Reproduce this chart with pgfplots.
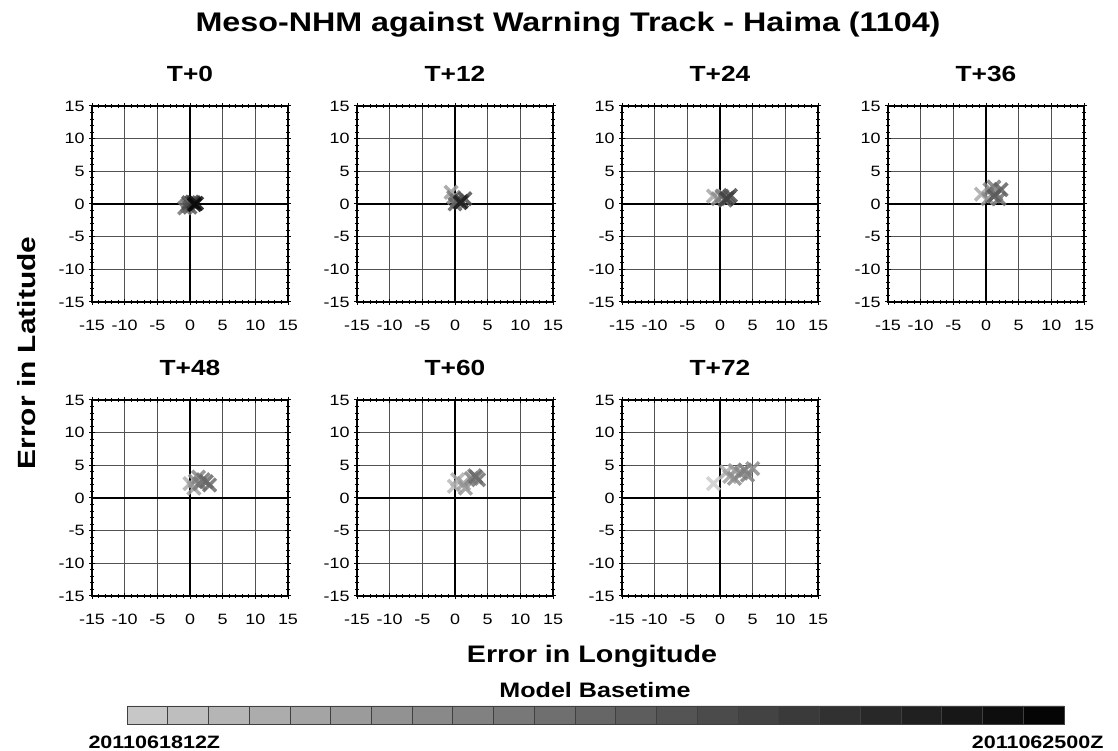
\documentclass[border=0pt]{standalone}
\usepackage{fontspec}
\setmainfont{Liberation Sans}[FakeStretch=1.2]
\usepackage{pgfplots}
\pgfplotsset{compat=1.18}
\pgfplotsset{
  panel/.style={
    scale only axis, width=196bp, height=196bp, anchor=north west,
    xmin=-15,xmax=15,ymin=-15,ymax=15,
    xtick={-15,-10,-5,0,5,10,15}, ytick={-15,-10,-5,0,5,10,15},
    minor tick num=4,
    grid=major, major grid style={draw=black!68, line width=1.1pt},
    axis line style={line width=1.2pt},
    every tick/.style={black, line width=1pt},
    major tick length=6bp, minor tick length=4bp,
    tick align=center,
    /pgf/number format/assume math mode=true,
    ticklabel style={font=\fontsize{15}{15}\selectfont},
    xticklabel style={yshift=-12bp},
    yticklabel style={xshift=-1bp},
    title style={font=\bfseries\fontsize{22}{22}\selectfont, at={(0.5,1)}, anchor=base, yshift=19bp},
    colormap={grays}{gray(0cm)=(0); gray(1cm)=(1)},
    point meta min=0, point meta max=1,
  },
  xs/.style={scatter, only marks, mark=x, mark size=9bp, scatter src=explicit,
    scatter/use mapped color={draw=mapped color, fill=mapped color},
    mark options={line width=3.5pt, opacity=0.85}},
  zl/.style={black, line width=2.4pt, no marks, forget plot},
}
\newcommand{\zerolines}{%
  \addplot[zl] coordinates {(0,-15) (0,15)};
  \addplot[zl] coordinates {(-15,0) (15,0)};
}
\begin{document}
\begin{tikzpicture}
\path[use as bounding box] (0,0) rectangle (1118bp,751bp);

\node[font=\bfseries\fontsize{27}{27}\selectfont] at (568bp,726bp) {Meso-NHM against Warning Track - Haima (1104)};

% T+0
\begin{axis}[panel, at={(92bp,645bp)}, title={T+0}]
\zerolines
\addplot[xs] table[row sep=\\, meta=g] {x y g\\
-0.8 -0.6 0.45\\ -0.4 -0.2 0.40\\ 0.0 -0.5 0.35\\ -0.2 0.2 0.30\\ 0.3 0.3 0.28\\ 0.6 0.2 0.18\\ 1.0 0.1 0.08\\ 0.7 -0.1 0.03\\};
\end{axis}
% T+12
\begin{axis}[panel, at={(357bp,645bp)}, title={T+12}]
\zerolines
\addplot[xs] table[row sep=\\, meta=g] {x y g\\
-0.6 1.8 0.62\\ -0.2 1.0 0.50\\ 0.3 0.5 0.42\\ 0.0 0.0 0.38\\ 1.5 0.8 0.30\\ 1.0 0.4 0.22\\ 0.8 0.2 0.12\\};
\end{axis}
% T+24
\begin{axis}[panel, at={(622bp,645bp)}, title={T+24}]
\zerolines
\addplot[xs] table[row sep=\\, meta=g] {x y g\\
-1.0 1.2 0.65\\ -0.3 0.8 0.55\\ 0.3 1.2 0.48\\ 0.8 0.6 0.40\\ 1.3 1.0 0.33\\ 1.6 1.3 0.30\\ 1.0 0.8 0.25\\};
\end{axis}
% T+36
\begin{axis}[panel, at={(888bp,645bp)}, title={T+36}]
\zerolines
\addplot[xs] table[row sep=\\, meta=g] {x y g\\
-0.7 1.5 0.66\\ 0.3 0.8 0.58\\ 0.6 2.2 0.52\\ 1.2 2.6 0.48\\ 1.5 1.5 0.42\\ 2.0 0.8 0.45\\ 2.3 2.2 0.38\\ 1.2 1.2 0.35\\};
\end{axis}
% T+48
\begin{axis}[panel, at={(92bp,351bp)}, title={T+48}]
\zerolines
\addplot[xs] table[row sep=\\, meta=g] {x y g\\
0.0 2.2 0.68\\ 0.6 1.5 0.62\\ 0.8 2.6 0.58\\ 1.3 3.2 0.52\\ 1.5 2.2 0.48\\ 2.0 2.8 0.45\\ 3.0 2.0 0.42\\ 2.5 2.5 0.40\\};
\end{axis}
% T+60
\begin{axis}[panel, at={(357bp,351bp)}, title={T+60}]
\zerolines
\addplot[xs] table[row sep=\\, meta=g] {x y g\\
-0.1 1.8 0.72\\ 0.4 2.8 0.68\\ 1.3 2.2 0.62\\ 1.6 1.5 0.58\\ 2.5 3.0 0.52\\ 3.0 3.4 0.48\\ 3.6 2.8 0.45\\ 3.2 3.2 0.42\\};
\end{axis}
% T+72
\begin{axis}[panel, at={(622bp,351bp)}, title={T+72}]
\zerolines
\addplot[xs] table[row sep=\\, meta=g] {x y g\\
-1.0 2.2 0.80\\ 1.0 4.0 0.68\\ 1.5 3.3 0.62\\ 2.3 4.2 0.60\\ 2.2 3.0 0.55\\ 3.2 3.8 0.52\\ 4.2 3.5 0.50\\ 5.0 4.5 0.55\\ 3.8 4.3 0.50\\};
\end{axis}

\node[font=\bfseries\fontsize{25}{25}\selectfont, rotate=90] at (27bp,398bp) {Error in Latitude};
\node[font=\bfseries\fontsize{24}{24}\selectfont] at (592bp,95bp) {Error in Longitude};
\node[font=\bfseries\fontsize{21}{21}\selectfont] at (595bp,61bp) {Model Basetime};

% colour bar
\begin{axis}[scale only axis, width=937bp, height=18bp, anchor=south west, at={(127bp,27bp)},
  xmin=0, xmax=23, ymin=0, ymax=1, hide axis, clip=false]
\pgfplotsset{cb/.style={draw=black!75, line width=0.9pt, no marks}}
\addplot[cb, fill=black!22.0] coordinates {(0,0)(1,0)(1,1)(0,1)(0,0)};
\addplot[cb, fill=black!25.5] coordinates {(1,0)(2,0)(2,1)(1,1)(1,0)};
\addplot[cb, fill=black!28.9] coordinates {(2,0)(3,0)(3,1)(2,1)(2,0)};
\addplot[cb, fill=black!32.4] coordinates {(3,0)(4,0)(4,1)(3,1)(3,0)};
\addplot[cb, fill=black!35.8] coordinates {(4,0)(5,0)(5,1)(4,1)(4,0)};
\addplot[cb, fill=black!39.3] coordinates {(5,0)(6,0)(6,1)(5,1)(5,0)};
\addplot[cb, fill=black!42.7] coordinates {(6,0)(7,0)(7,1)(6,1)(6,0)};
\addplot[cb, fill=black!46.2] coordinates {(7,0)(8,0)(8,1)(7,1)(7,0)};
\addplot[cb, fill=black!49.6] coordinates {(8,0)(9,0)(9,1)(8,1)(8,0)};
\addplot[cb, fill=black!53.1] coordinates {(9,0)(10,0)(10,1)(9,1)(9,0)};
\addplot[cb, fill=black!56.5] coordinates {(10,0)(11,0)(11,1)(10,1)(10,0)};
\addplot[cb, fill=black!60.0] coordinates {(11,0)(12,0)(12,1)(11,1)(11,0)};
\addplot[cb, fill=black!63.5] coordinates {(12,0)(13,0)(13,1)(12,1)(12,0)};
\addplot[cb, fill=black!66.9] coordinates {(13,0)(14,0)(14,1)(13,1)(13,0)};
\addplot[cb, fill=black!70.4] coordinates {(14,0)(15,0)(15,1)(14,1)(14,0)};
\addplot[cb, fill=black!73.8] coordinates {(15,0)(16,0)(16,1)(15,1)(15,0)};
\addplot[cb, fill=black!77.3] coordinates {(16,0)(17,0)(17,1)(16,1)(16,0)};
\addplot[cb, fill=black!80.7] coordinates {(17,0)(18,0)(18,1)(17,1)(17,0)};
\addplot[cb, fill=black!84.2] coordinates {(18,0)(19,0)(19,1)(18,1)(18,0)};
\addplot[cb, fill=black!87.6] coordinates {(19,0)(20,0)(20,1)(19,1)(19,0)};
\addplot[cb, fill=black!91.1] coordinates {(20,0)(21,0)(21,1)(20,1)(20,0)};
\addplot[cb, fill=black!94.5] coordinates {(21,0)(22,0)(22,1)(21,1)(21,0)};
\addplot[cb, fill=black!98.0] coordinates {(22,0)(23,0)(23,1)(22,1)(22,0)};
\end{axis}
\node[font=\bfseries\fontsize{18}{18}\selectfont, anchor=west] at (85bp,9bp) {2011061812Z};
\node[font=\bfseries\fontsize{18}{18}\selectfont, anchor=east] at (1107bp,9bp) {2011062500Z};
\end{tikzpicture}
\end{document}
